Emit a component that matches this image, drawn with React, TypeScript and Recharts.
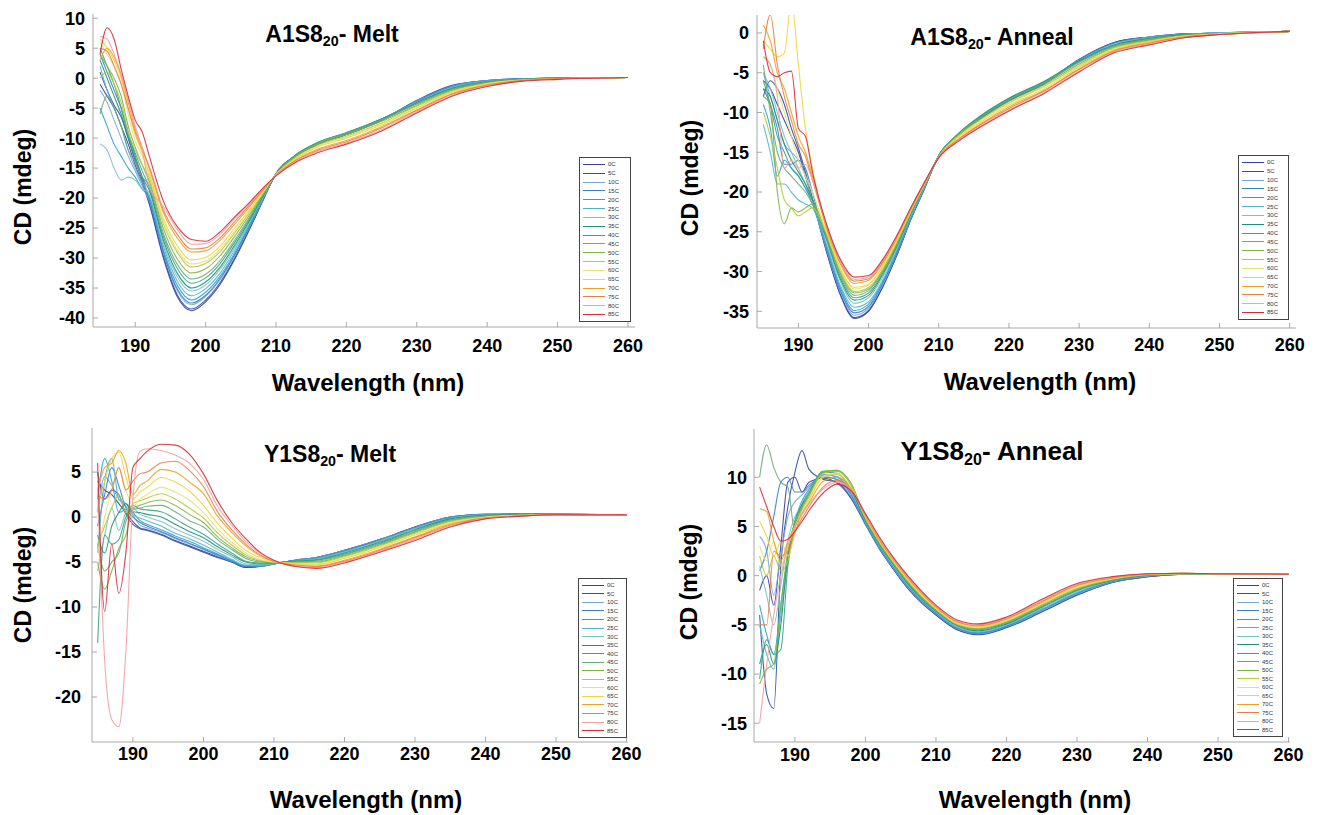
import { LineChart, Line, XAxis, YAxis } from "recharts";

const WAVELENGTHS = [185, 186, 187, 188, 189, 190, 191, 192, 194, 196, 198, 200, 202, 204, 206, 208, 210, 213, 216, 220, 225, 230, 235, 240, 245, 250, 260];
const TEMPS = ["0C", "5C", "10C", "15C", "20C", "25C", "30C", "35C", "40C", "45C", "50C", "55C", "60C", "65C", "70C", "75C", "80C", "85C"];
const COLORS = ["#3c3f99", "#2f4fa3", "#7aa6d6", "#3e7fc1", "#2aa0d8", "#55b3c9", "#7ac3c0", "#1f8f7a", "#3aa38a", "#6aaa7c", "#7cb342", "#b5c83a", "#e2e27a", "#f1d53a", "#f0a020", "#e8804a", "#f2a0a0", "#d42a3a"];
const X_TICKS = [190, 200, 210, 220, 230, 240, 250, 260];

// each row = one wavelength, 18 values in TEMPS order
const A1_MELT: number[][] = [
  [-1, 1, -2, 4, -5, 2, -11, 3, 5, -6, 4, 0, 6, 6.5, 3, 5, 7, 4],
  [-3, -2, -4, 1, -8, -2, -12, 0, 2, -3, 2, 1, 4, 5, 5, 4.5, 6.5, 8.4],
  [-5, -4.5, -7, -2, -11, -5, -15, -3, -1, -5, 0, -1, 2, 3, 3.5, 2, 4, 6.5],
  [-8, -6.5, -10, -5, -13, -8, -17, -6, -5, -8, -3, -4, -1, 0, 0.5, -1, 0.5, 1.5],
  [-11, -10, -13, -9, -15, -12, -16.5, -10, -9.5, -12, -8, -9, -6, -5, -4, -5, -3.5, -3],
  [-14.5, -13.8, -15.5, -13, -16.5, -15, -17, -13.5, -12.5, -14, -11.5, -12, -10.5, -9.5, -8.5, -9, -8, -7],
  [-17.5, -17, -18, -16.5, -18.5, -17.5, -18.5, -16.5, -15.5, -16.5, -14.5, -14.5, -13, -12.5, -11.5, -12, -12, -9],
  [-21, -20.8, -20.4, -20.2, -19.9, -19.5, -19, -18.7, -18.2, -17.8, -17.2, -16.6, -16.3, -15.9, -15.1, -14.8, -18, -13],
  [-30, -29.7, -29.2, -29, -28.6, -28, -27.5, -27, -26.4, -25.9, -25.1, -24.3, -24, -23.4, -22.4, -22, -21.4, -20.5],
  [-36.5, -36.2, -35.5, -35.2, -34.6, -33.9, -33.2, -32.6, -31.8, -31.1, -30.2, -29.1, -28.7, -28, -26.7, -26.1, -25.3, -24.8],
  [-38.8, -38.5, -37.8, -37.5, -37, -36.3, -35.5, -35, -34.2, -33.5, -32.5, -31.5, -31, -30.3, -29, -28.5, -27.7, -26.9],
  [-37.3, -37, -36.4, -36.2, -35.7, -35.1, -34.5, -34, -33.3, -32.7, -31.8, -30.9, -30.5, -29.9, -28.8, -28.3, -27.6, -27.2],
  [-34.5, -34.2, -33.7, -33.5, -33.1, -32.6, -32, -31.6, -31, -30.5, -29.7, -29, -28.6, -28.1, -27.1, -26.7, -26.1, -25.7],
  [-30.5, -30.3, -29.9, -29.7, -29.4, -28.9, -28.5, -28.1, -27.6, -27.2, -26.6, -26, -25.7, -25.2, -24.5, -24.1, -23.6, -23.3],
  [-25.8, -25.7, -25.4, -25.3, -25, -24.7, -24.5, -24.2, -23.9, -23.6, -23.2, -22.8, -22.6, -22.3, -21.8, -21.5, -21.2, -21],
  [-20.8, -20.7, -20.6, -20.5, -20.4, -20.3, -20.2, -20, -19.9, -19.7, -19.6, -19.4, -19.3, -19.1, -18.9, -18.8, -18.6, -18.5],
  [-15.9, -15.9, -16, -16, -16, -16, -16, -16, -16, -16, -16, -16.1, -16.1, -16.1, -16.2, -16.2, -16.2, -16.3],
  [-12.8, -12.8, -12.8, -12.7, -12.7, -12.7, -12.7, -12.6, -12.7, -12.8, -12.9, -13.1, -13.2, -13.3, -13.5, -13.6, -13.8, -13.9],
  [-11, -11, -10.9, -10.9, -10.8, -10.8, -10.7, -10.7, -10.7, -10.8, -11, -11.2, -11.3, -11.5, -11.8, -12, -12.2, -12.4],
  [-9.4, -9.4, -9.3, -9.3, -9.2, -9.2, -9.1, -9.1, -9.1, -9.2, -9.4, -9.7, -9.8, -10, -10.4, -10.6, -10.8, -11],
  [-7, -7, -6.9, -6.9, -6.8, -6.8, -6.8, -6.8, -6.9, -7, -7.2, -7.5, -7.6, -7.8, -8.1, -8.3, -8.6, -8.8],
  [-3.7, -3.8, -3.8, -3.9, -3.9, -4, -4, -4.1, -4.2, -4.3, -4.5, -4.7, -4.9, -5, -5.3, -5.4, -5.6, -5.8],
  [-1.2, -1.3, -1.3, -1.4, -1.4, -1.5, -1.6, -1.7, -1.8, -1.9, -2, -2.2, -2.3, -2.4, -2.6, -2.7, -2.9, -3],
  [-0.4, -0.4, -0.4, -0.5, -0.5, -0.5, -0.6, -0.6, -0.7, -0.7, -0.8, -0.9, -0.9, -1, -1.1, -1.2, -1.3, -1.4],
  [-0.1, -0.1, -0.1, -0.1, -0.1, -0.2, -0.2, -0.2, -0.2, -0.2, -0.3, -0.3, -0.3, -0.4, -0.4, -0.4, -0.5, -0.5],
  [0, 0, 0, 0, 0, 0, 0, 0, 0, 0, -0.1, -0.1, -0.1, -0.1, -0.1, -0.1, -0.2, -0.2],
  [0.1, 0.1, 0.1, 0.1, 0.1, 0.1, 0.1, 0.1, 0.1, 0.1, 0.1, 0.1, 0.1, 0.1, 0.1, 0.1, 0.1, 0.1],
];

const A1_ANNEAL: number[][] = [
  [-6, -8, -5, -7, -9, -11.5, -5, -7, -6, -4, -8, -10, -3, -1, 1, -2, -3, -1],
  [-7, -6, -8, -9, -12, -15, -7, -8, -9, -10, -9, -13, -4, -2, -1, 2.3, -4, -5],
  [-9, -7, -11, -12, -18, -19, -10, -11, -13, -15, -20, -17, -7, -3, -5, -4, -8, -5.5],
  [-11, -9, -14, -16.5, -16, -19, -13, -14, -15, -17, -24, -21, -10, -2.5, -7, -8, -17, -5],
  [-13, -12, -15, -16.5, -17, -20, -15, -16, -17, -18, -22, -22, -13, 4, -10, -11, -16, -4.8],
  [-15, -14.5, -16, -16, -18, -21, -17, -17.5, -18, -19, -22.5, -23, -16, -4, -13, -14, -17, -12],
  [-18, -17.5, -18, -17, -19.5, -21.5, -19, -19, -19.5, -20, -22, -22.5, -18, -12, -15, -15.5, -16.5, -13],
  [-21, -20.8, -21, -20, -21.5, -22, -21, -21, -21, -21.5, -21.5, -22, -20, -17, -18, -18.5, -18.5, -17.5],
  [-27.5, -27.4, -27.2, -27, -26.8, -26.6, -26.2, -25.9, -25.7, -25.5, -25.3, -25.2, -25, -24.8, -24.5, -24.3, -24.1, -24],
  [-33, -32.9, -32.6, -32.4, -32.1, -31.8, -31.3, -31, -30.7, -30.4, -30.2, -30, -29.7, -29.6, -29.1, -28.9, -28.7, -28.5],
  [-35.9, -35.8, -35.5, -35.2, -34.9, -34.5, -34, -33.6, -33.3, -33, -32.7, -32.5, -32.2, -32, -31.5, -31.2, -31, -30.7],
  [-35, -34.9, -34.6, -34.4, -34.1, -33.8, -33.3, -33, -32.7, -32.4, -32.2, -32, -31.7, -31.6, -31.1, -30.9, -30.7, -30.5],
  [-32, -31.9, -31.7, -31.5, -31.3, -31.1, -30.7, -30.4, -30.2, -30, -29.8, -29.7, -29.4, -29.3, -29, -28.8, -28.6, -28.5],
  [-28, -28, -27.8, -27.7, -27.5, -27.3, -27.1, -26.9, -26.7, -26.6, -26.4, -26.3, -26.2, -26.1, -25.8, -25.7, -25.6, -25.5],
  [-23.5, -23.5, -23.4, -23.3, -23.2, -23.1, -23, -22.8, -22.7, -22.6, -22.5, -22.5, -22.4, -22.3, -22.2, -22.1, -22, -22],
  [-19.5, -19.5, -19.4, -19.4, -19.3, -19.3, -19.2, -19.1, -19.1, -19, -19, -19, -18.9, -18.9, -18.8, -18.8, -18.7, -18.7],
  [-15.4, -15.4, -15.4, -15.4, -15.4, -15.5, -15.5, -15.5, -15.5, -15.5, -15.5, -15.5, -15.6, -15.6, -15.6, -15.6, -15.7, -15.7],
  [-12.7, -12.7, -12.7, -12.6, -12.6, -12.6, -12.5, -12.5, -12.5, -12.6, -12.7, -12.8, -12.9, -13, -13.2, -13.3, -13.4, -13.5],
  [-10.7, -10.7, -10.6, -10.6, -10.5, -10.5, -10.4, -10.4, -10.5, -10.6, -10.8, -10.9, -11, -11.2, -11.4, -11.5, -11.7, -11.8],
  [-8.5, -8.5, -8.4, -8.4, -8.3, -8.3, -8.2, -8.2, -8.3, -8.4, -8.6, -8.8, -8.9, -9.1, -9.3, -9.5, -9.7, -9.8],
  [-6.4, -6.4, -6.3, -6.3, -6.2, -6.2, -6.1, -6.1, -6.2, -6.3, -6.5, -6.7, -6.8, -7, -7.2, -7.3, -7.5, -7.6],
  [-3.3, -3.4, -3.4, -3.4, -3.4, -3.5, -3.5, -3.5, -3.6, -3.7, -3.9, -4.1, -4.2, -4.3, -4.5, -4.6, -4.8, -4.9],
  [-1.2, -1.2, -1.3, -1.3, -1.3, -1.4, -1.4, -1.5, -1.6, -1.7, -1.8, -1.9, -2, -2.1, -2.2, -2.3, -2.4, -2.5],
  [-0.5, -0.5, -0.5, -0.6, -0.6, -0.6, -0.7, -0.7, -0.8, -0.8, -0.9, -1, -1.1, -1.1, -1.2, -1.3, -1.4, -1.5],
  [-0.1, -0.1, -0.1, -0.1, -0.2, -0.2, -0.2, -0.2, -0.3, -0.3, -0.3, -0.4, -0.4, -0.4, -0.5, -0.5, -0.6, -0.6],
  [0, 0, 0, 0, 0, 0, 0, -0.1, -0.1, -0.1, -0.1, -0.1, -0.1, -0.2, -0.2, -0.2, -0.2, -0.2],
  [0.2, 0.2, 0.2, 0.2, 0.2, 0.2, 0.2, 0.2, 0.2, 0.2, 0.2, 0.2, 0.2, 0.2, 0.2, 0.2, 0.2, 0.2],
];

const Y1_MELT: number[][] = [
  [4, 5, 0.5, -1, 2, -4, -6, -2, -14, -3, -5, -3, -4, 1, 3, 2.5, 3, 6],
  [3, 2, 4.5, 2.5, 6.5, 4, -2, -4, -2, -6, -8, -1, 0, 4, 5.5, 2, -16, -10.5],
  [2.5, 3, 3.5, 5.5, 4, 6.5, 1, -1, -3, -5, -6, 1, 3, 6.5, 6, 3, -22.5, -3],
  [1.5, 2.5, 2, 3.5, 0.5, 2, -1.5, 0.5, -2.5, -4, -3.5, 2.5, 5.5, 7.2, 7.4, 5.5, -23.3, -8.5],
  [0.5, 0.3, 1.2, 1, 0.8, 1.5, 0.5, 1.5, 0, -0.5, -2, 0.5, 3, 4.5, 6, 3, -15, -4],
  [-0.5, -0.8, 0.2, 0, 0.5, 0.3, 1, 0.6, 1.3, 0.8, 1, 1.5, 1.2, 2, 2.5, 4, 2, 5.5],
  [-1.2, -1.3, -0.9, -0.6, -0.4, -0.1, 0.3, 0.5, 0.9, 1, 1.3, 1.8, 2, 2.8, 3.5, 4.8, 7.3, 6.5],
  [-1.4, -1.5, -1.2, -1, -0.8, -0.4, 0, 0.3, 0.8, 1.2, 1.6, 2.1, 2.5, 3.3, 4, 5, 7.6, 7.3],
  [-1.9, -2, -1.7, -1.6, -1.4, -1, -0.5, 0, 0.6, 1.3, 1.9, 2.6, 3.3, 4.4, 5.3, 6, 7.4, 8.1],
  [-2.6, -2.7, -2.4, -2.3, -2.1, -1.8, -1.3, -0.8, -0.2, 0.6, 1.3, 2, 2.8, 3.9, 5, 6.2, 6.9, 8],
  [-3.2, -3.3, -3, -2.9, -2.7, -2.4, -2, -1.6, -1.1, -0.4, 0.3, 1, 1.9, 2.9, 3.9, 5.2, 6, 7],
  [-3.8, -3.9, -3.6, -3.55, -3.4, -3.1, -2.7, -2.3, -1.9, -1.1, -0.6, -0.1, 0.5, 1.3, 2.6, 3.4, 4.2, 4.8],
  [-4.4, -4.5, -4.3, -4.2, -4.1, -3.9, -3.6, -3.3, -3, -2.5, -2.2, -1.75, -1.3, -0.7, 0.1, 0.6, 1.2, 1.8],
  [-5, -5, -4.9, -4.9, -4.8, -4.7, -4.4, -4.2, -4, -3.6, -3.4, -3.1, -2.8, -2.3, -1.7, -1.4, -0.9, -0.6],
  [-5.6, -5.6, -5.5, -5.5, -5.4, -5.35, -5.2, -5, -4.9, -4.6, -4.4, -4.2, -4, -3.7, -3.2, -3, -2.7, -2.4],
  [-5.5, -5.5, -5.5, -5.45, -5.4, -5.4, -5.3, -5.2, -5.1, -5, -4.9, -4.8, -4.7, -4.5, -4.3, -4.2, -4, -3.9],
  [-5.2, -5.2, -5.2, -5.2, -5.2, -5.2, -5.15, -5.1, -5.1, -5.1, -5.05, -5, -5, -4.95, -4.9, -4.9, -4.85, -4.8],
  [-4.8, -4.8, -4.8, -4.8, -4.8, -4.85, -4.9, -4.9, -4.95, -5, -5.05, -5.1, -5.15, -5.2, -5.3, -5.35, -5.45, -5.5],
  [-4.5, -4.5, -4.5, -4.55, -4.6, -4.6, -4.7, -4.75, -4.8, -4.9, -5, -5.1, -5.2, -5.3, -5.45, -5.5, -5.6, -5.7],
  [-3.7, -3.7, -3.7, -3.75, -3.8, -3.85, -3.9, -4, -4.1, -4.2, -4.3, -4.4, -4.5, -4.6, -4.8, -4.9, -5, -5.1],
  [-2.5, -2.5, -2.5, -2.55, -2.6, -2.65, -2.7, -2.8, -2.9, -3, -3.1, -3.2, -3.3, -3.4, -3.6, -3.7, -3.8, -3.9],
  [-1.1, -1.1, -1.15, -1.2, -1.2, -1.25, -1.3, -1.4, -1.5, -1.6, -1.7, -1.8, -1.9, -2, -2.2, -2.3, -2.45, -2.6],
  [0, 0, 0, -0.05, -0.1, -0.1, -0.15, -0.2, -0.3, -0.35, -0.45, -0.5, -0.6, -0.7, -0.8, -0.9, -1, -1.1],
  [0.3, 0.3, 0.3, 0.3, 0.25, 0.25, 0.2, 0.2, 0.15, 0.1, 0.05, 0, 0, -0.05, -0.1, -0.1, -0.15, -0.2],
  [0.35, 0.35, 0.35, 0.35, 0.3, 0.3, 0.3, 0.3, 0.25, 0.25, 0.2, 0.2, 0.2, 0.15, 0.15, 0.1, 0.1, 0.1],
  [0.3, 0.3, 0.3, 0.3, 0.3, 0.3, 0.3, 0.3, 0.3, 0.3, 0.25, 0.25, 0.25, 0.25, 0.25, 0.25, 0.25, 0.25],
  [0.25, 0.25, 0.25, 0.25, 0.25, 0.25, 0.25, 0.25, 0.25, 0.25, 0.25, 0.25, 0.25, 0.25, 0.25, 0.25, 0.25, 0.25],
];

const Y1_ANNEAL: number[][] = [
  [-1.5, -4, 4, 0.5, -3, -5, 1, -9, -10.5, 10, -11, 2, 3, 5.5, 6.8, -5, -15, 9],
  [0, -12, 2.5, 2.5, -6, -8, -2, -7, -6.5, 13.3, -9.5, 0, 1.5, 4, 6.5, -5, -9, 7],
  [-3, -13.5, -2, 6, -8, -9.5, -5, -9, -8, 11, -9, 2, 3.5, 2, 3.5, 2.5, -4, 5],
  [3, 1, 2, 9.5, -3, -4, -1, -5, -7.5, 9.5, -3, 0.5, 1, 3.5, 1.5, 2, 0, 3.5],
  [9.5, 7, 6, 10, 2, 1.5, 3.5, 2, 1, 9, 2.5, 1.5, 3, 2, 3.5, 2.5, 3, 3.7],
  [10, 10.5, 7.5, 8.5, 5.5, 5, 6, 5.5, 5, 4.5, 5.5, 4.8, 5, 4.2, 5, 4.5, 5, 4.5],
  [8.5, 12.7, 8.2, 8.5, 7.6, 7.3, 7, 7.2, 7, 6.8, 7, 6.6, 6.5, 6.2, 6.3, 5.8, 6.2, 5.5],
  [9.5, 10.8, 9, 9.2, 8.8, 8.6, 8.4, 8.3, 8.4, 8.1, 8.3, 8, 7.8, 7.6, 7.4, 7, 7.3, 6.6],
  [9.9, 9.8, 10.1, 10, 10.3, 10.2, 10.3, 10.5, 10.6, 10.5, 10.6, 10.4, 10.1, 10, 9.6, 9, 8.8, 8.4],
  [9.4, 9.5, 9.7, 9.8, 10, 10.1, 10.3, 10.4, 10.6, 10.7, 10.7, 10.6, 10.4, 10.3, 10, 9.7, 9.5, 9.3],
  [7.8, 7.9, 8, 8.2, 8.3, 8.4, 8.6, 8.7, 9.2, 9.3, 9.3, 9.2, 8.9, 8.9, 8.8, 8.7, 8.7, 8.6],
  [5.2, 5.25, 5.3, 5.35, 5.4, 5.5, 5.55, 5.6, 5.7, 5.75, 5.8, 5.9, 5.95, 6, 6.1, 6.15, 6.2, 6.3],
  [2.7, 2.75, 2.8, 2.9, 2.95, 3, 3.1, 3.15, 3.2, 3.3, 3.35, 3.4, 3.5, 3.55, 3.6, 3.7, 3.8, 3.9],
  [0.6, 0.65, 0.7, 0.8, 0.85, 0.95, 1, 1.1, 1.15, 1.2, 1.3, 1.35, 1.45, 1.5, 1.6, 1.65, 1.7, 1.8],
  [-1.3, -1.25, -1.2, -1.1, -1, -0.95, -0.9, -0.8, -0.7, -0.6, -0.55, -0.5, -0.4, -0.3, -0.25, -0.15, -0.1, 0],
  [-2.8, -2.75, -2.7, -2.6, -2.55, -2.5, -2.4, -2.35, -2.3, -2.2, -2.15, -2.1, -2, -1.9, -1.85, -1.75, -1.7, -1.6],
  [-4, -3.95, -3.9, -3.85, -3.8, -3.7, -3.65, -3.6, -3.55, -3.5, -3.45, -3.4, -3.35, -3.3, -3.2, -3.15, -3.1, -3],
  [-5.5, -5.45, -5.4, -5.35, -5.3, -5.25, -5.2, -5.1, -5.05, -5, -4.95, -4.9, -4.85, -4.8, -4.7, -4.65, -4.6, -4.5],
  [-6, -5.95, -5.9, -5.85, -5.8, -5.7, -5.65, -5.6, -5.5, -5.45, -5.4, -5.3, -5.25, -5.2, -5.1, -5.05, -5, -4.9],
  [-5.3, -5.25, -5.2, -5.15, -5.1, -5, -4.95, -4.9, -4.8, -4.75, -4.7, -4.6, -4.55, -4.5, -4.4, -4.35, -4.3, -4.2],
  [-3.7, -3.65, -3.6, -3.5, -3.45, -3.4, -3.3, -3.2, -3.15, -3.1, -3, -2.9, -2.85, -2.8, -2.7, -2.6, -2.5, -2.4],
  [-2, -1.95, -1.9, -1.8, -1.75, -1.7, -1.6, -1.5, -1.45, -1.4, -1.3, -1.25, -1.2, -1.1, -1, -0.95, -0.9, -0.8],
  [-0.7, -0.7, -0.65, -0.6, -0.6, -0.55, -0.5, -0.5, -0.45, -0.4, -0.4, -0.35, -0.3, -0.3, -0.25, -0.2, -0.15, -0.1],
  [-0.1, -0.1, -0.05, -0.05, 0, 0, 0, 0.05, 0.05, 0.1, 0.1, 0.1, 0.15, 0.15, 0.15, 0.2, 0.2, 0.2],
  [0.15, 0.15, 0.15, 0.15, 0.2, 0.2, 0.2, 0.2, 0.2, 0.2, 0.2, 0.2, 0.2, 0.25, 0.25, 0.25, 0.25, 0.25],
  [0.2, 0.2, 0.2, 0.2, 0.2, 0.2, 0.2, 0.2, 0.2, 0.2, 0.2, 0.2, 0.2, 0.2, 0.2, 0.2, 0.2, 0.2],
  [0.15, 0.15, 0.15, 0.15, 0.15, 0.15, 0.15, 0.15, 0.15, 0.15, 0.15, 0.15, 0.15, 0.15, 0.15, 0.15, 0.15, 0.15],
];

const FONT = '"Liberation Sans", Arial, Helvetica, sans-serif';
const FRAME = "#a8a8a8";
const YW = 70;
const XH = 40;
const MT = 10;
const MR = 25;

function toRows(table: number[][]) {
  return WAVELENGTHS.map((w, j) => {
    const row: Record<string, number> = { w };
    TEMPS.forEach((t, i) => {
      row[t] = table[j][i];
    });
    return row;
  });
}

type PanelProps = {
  table: number[][];
  frame: { l: number; t: number; r: number; b: number };
  xDomain: [number, number];
  yDomain: [number, number];
  yTicks: number[];
  xGap: number;
  yGap: number;
  name: string;
  mode: string;
  titleX: number;
  titleBase: number;
  titleSize: number;
  yLabel: [number, number];
  xLabel: [number, number];
  legend: { l: number; t: number; w: number; h: number };
};

function Legend({ l, t, w, h }: PanelProps["legend"]) {
  return (
    <div
      style={{
        position: "absolute",
        left: l,
        top: t,
        width: w,
        height: h,
        boxSizing: "border-box",
        border: "1.5px solid #444",
        background: "#fff",
        display: "flex",
        flexDirection: "column",
        justifyContent: "space-around",
        padding: "2px 0",
      }}
    >
      {TEMPS.map((t, i) => (
        <div key={t} style={{ display: "flex", alignItems: "center", height: 8 }}>
          <span style={{ display: "inline-block", width: 22, marginLeft: 3, borderTop: `1.5px solid ${COLORS[i]}` }} />
          <span style={{ fontSize: 6, marginLeft: 3, color: "#333", fontFamily: FONT, lineHeight: 1 }}>{t}</span>
        </div>
      ))}
    </div>
  );
}

function Panel(p: PanelProps) {
  const { frame } = p;
  const width = YW + (frame.r - frame.l) + MR;
  const height = MT + (frame.b - frame.t) + XH;
  const data = toRows(p.table);
  const tickStyle = { fill: "#000", fontSize: 18, fontWeight: 700, fontFamily: FONT };
  return (
    <>
      <div style={{ position: "absolute", left: frame.l - YW, top: frame.t - MT }}>
        <LineChart width={width} height={height} data={data} margin={{ top: MT, right: MR, bottom: 0, left: 0 }}>
          <XAxis
            dataKey="w"
            type="number"
            domain={p.xDomain}
            allowDataOverflow
            ticks={X_TICKS}
            interval={0}
            height={XH}
            tickSize={-5}
            tickMargin={p.xGap}
            tick={tickStyle}
            stroke={FRAME}
          />
          <XAxis
            xAxisId="top"
            dataKey="w"
            orientation="top"
            type="number"
            domain={p.xDomain}
            allowDataOverflow
            ticks={X_TICKS}
            interval={0}
            height={0}
            tickSize={-5}
            tick={false}
            stroke={FRAME}
          />
          <YAxis
            type="number"
            domain={p.yDomain}
            allowDataOverflow
            ticks={p.yTicks}
            interval={0}
            width={YW}
            tickSize={-5}
            tickMargin={p.yGap}
            tick={tickStyle}
            stroke={FRAME}
          />
          <YAxis
            yAxisId="right"
            orientation="right"
            type="number"
            domain={p.yDomain}
            allowDataOverflow
            ticks={p.yTicks}
            interval={0}
            width={0}
            tickSize={-5}
            tick={false}
            stroke={FRAME}
          />
          {TEMPS.map((t, i) => (
            <Line
              key={t}
              dataKey={t}
              type="monotone"
              stroke={COLORS[i]}
              strokeWidth={1.1}
              strokeOpacity={0.9}
              dot={false}
              activeDot={false}
              isAnimationActive={false}
            />
          ))}
        </LineChart>
      </div>
      <div
        style={{
          position: "absolute",
          left: p.titleX,
          top: p.titleBase - 0.846 * p.titleSize,
          transform: "translateX(-50%)",
          fontSize: p.titleSize,
          fontWeight: 700,
          lineHeight: 1,
          whiteSpace: "nowrap",
          fontFamily: FONT,
        }}
      >
        {p.name}
        <span style={{ fontSize: "0.62em", position: "relative", top: "0.3em" }}>20</span>- {p.mode}
      </div>
      <div
        style={{
          position: "absolute",
          left: p.yLabel[0],
          top: p.yLabel[1],
          transform: "translate(-50%, -50%) rotate(-90deg)",
          fontSize: 23,
          fontWeight: 700,
          lineHeight: 1,
          whiteSpace: "nowrap",
          fontFamily: FONT,
        }}
      >
        CD (mdeg)
      </div>
      <div
        style={{
          position: "absolute",
          left: p.xLabel[0],
          top: p.xLabel[1],
          transform: "translate(-50%, -50%)",
          fontSize: 24,
          fontWeight: 700,
          lineHeight: 1,
          whiteSpace: "nowrap",
          fontFamily: FONT,
        }}
      >
        Wavelength (nm)
      </div>
      <Legend {...p.legend} />
    </>
  );
}

export default function App() {
  return (
    <div style={{ position: "absolute", left: 0, top: 0, width: 1318, height: 815, background: "#fff", fontFamily: FONT }}>
      <Panel
        table={A1_MELT}
        frame={{ l: 93, t: 14, r: 635, b: 327 }}
        xDomain={[184, 261]}
        yDomain={[-41.5, 10.7]}
        yTicks={[-40, -35, -30, -25, -20, -15, -10, -5, 0, 5, 10]}
        xGap={17}
        yGap={13}
        name="A1S8"
        mode="Melt"
        titleX={332}
        titleBase={42}
        titleSize={23}
        yLabel={[23, 187]}
        xLabel={[368, 383]}
        legend={{ l: 579, t: 157, w: 52, h: 165 }}
      />
      <Panel
        table={A1_ANNEAL}
        frame={{ l: 757, t: 15, r: 1296, b: 328 }}
        xDomain={[184.1, 260.9]}
        yDomain={[-37.1, 2.26]}
        yTicks={[-35, -30, -25, -20, -15, -10, -5, 0]}
        xGap={15}
        yGap={13}
        name="A1S8"
        mode="Anneal"
        titleX={992}
        titleBase={45}
        titleSize={23}
        yLabel={[690, 178]}
        xLabel={[1040, 382]}
        legend={{ l: 1238, t: 155, w: 51, h: 165 }}
      />
      <Panel
        table={Y1_MELT}
        frame={{ l: 92, t: 428, r: 628, b: 742 }}
        xDomain={[184.2, 260.2]}
        yDomain={[-25, 9.9]}
        yTicks={[-20, -15, -10, -5, 0, 5]}
        xGap={10}
        yGap={16}
        name="Y1S8"
        mode="Melt"
        titleX={330}
        titleBase={462}
        titleSize={23}
        yLabel={[23, 585]}
        xLabel={[366, 800]}
        legend={{ l: 578, t: 578, w: 49, h: 160 }}
      />
      <Panel
        table={Y1_ANNEAL}
        frame={{ l: 754, t: 429, r: 1290, b: 742 }}
        xDomain={[184.2, 260.2]}
        yDomain={[-16.9, 14.9]}
        yTicks={[-15, -10, -5, 0, 5, 10]}
        xGap={11}
        yGap={12}
        name="Y1S8"
        mode="Anneal"
        titleX={992}
        titleBase={460}
        titleSize={26}
        yLabel={[689, 582]}
        xLabel={[1035, 800]}
        legend={{ l: 1233, t: 578, w: 50, h: 159 }}
      />
    </div>
  );
}
